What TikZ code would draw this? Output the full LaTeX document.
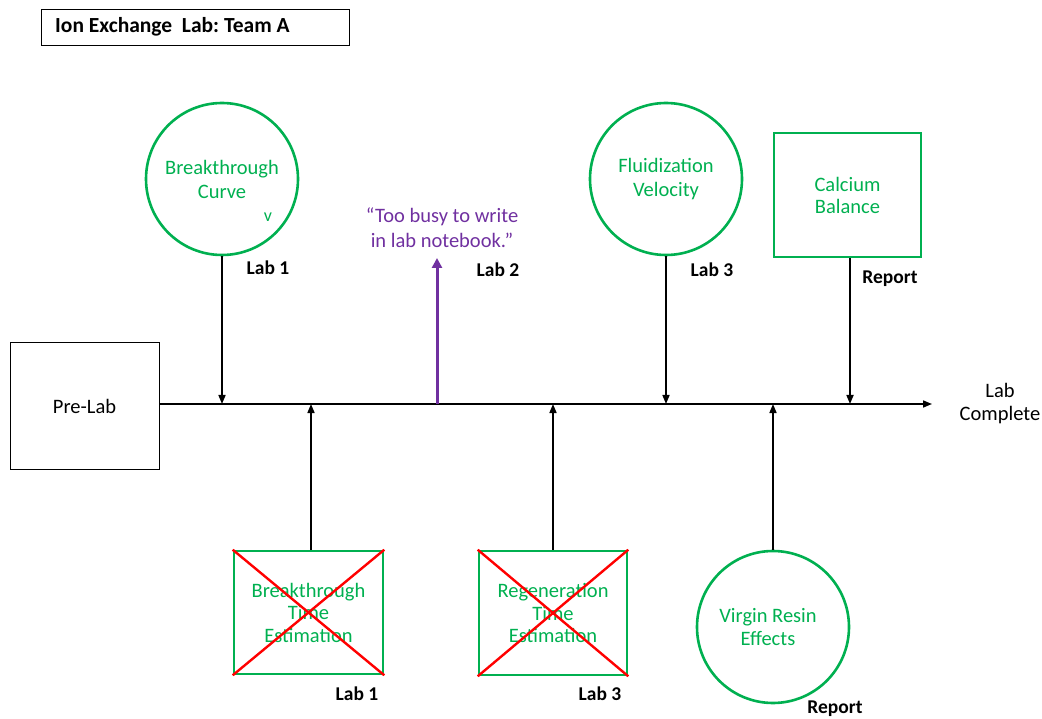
\documentclass[tikz,border=0pt]{standalone}
\usepackage{fontspec}
\setmainfont{Carlito}
\usetikzlibrary{arrows.meta}
\definecolor{labgreen}{RGB}{0,176,80}
\definecolor{labpurple}{RGB}{112,48,160}
\definecolor{labred}{RGB}{255,0,0}
\begin{document}
\begin{tikzpicture}[x=1pt,y=-1pt,
  topic/.style={draw=labgreen,line width=2.6pt,text=labgreen,font=\fontsize{20.5}{24}\selectfont,align=center,inner sep=0pt},
  roundtopic/.style={topic,circle,minimum size=152pt},
  boxtopic/.style={topic,rectangle},
  plainbox/.style={draw=black,line width=1pt,rectangle,inner sep=0pt},
  lablabel/.style={font=\fontsize{19.5}{22}\selectfont\bfseries,inner sep=0pt},
  feed/.style={line width=1.6pt,-{Triangle[length=9pt,width=7pt]}},
  cross/.style={draw=labred,line width=2.4pt}]
\useasboundingbox (0,0) rectangle (1042,719);

% title
\node[plainbox,minimum width=308pt,minimum height=36pt] (title) at (195,28) {};
\node[anchor=west,font=\fontsize{21.5}{24}\selectfont\bfseries,inner sep=0pt] (titletext) at (55,27) {Ion Exchange\ \ Lab:\ Team A};

% timeline
\node[plainbox,minimum width=149pt,minimum height=126pt,font=\fontsize{20.5}{24}\selectfont] (pre) at (84.5,406) {Pre-Lab};
\node[font=\fontsize{20.5}{23}\selectfont,align=center,inner sep=0pt] (done) at (1000,404) {Lab\\Complete};
\coordinate (lineend) at (932,404);

% points on the timeline
\coordinate (p1) at (222,404);
\coordinate (p2) at (311,404);
\coordinate (p3) at (437,404);
\coordinate (p4) at (553,404);
\coordinate (p5) at (666,404);
\coordinate (p6) at (773,404);
\coordinate (p7) at (850,404);
\draw[feed] (pre.east |- lineend) -- (lineend);

% upper topics
\node[roundtopic] (curve) at (222,179) {Breakthrough\\Curve};
\node[text=labgreen,font=\fontsize{18}{20}\selectfont,inner sep=0pt] (tick) at (268,217) {v};
\draw[feed] (curve.south) -- (p1);
\node[lablabel] (lab1a) at (268,268) {Lab 1};

\node[roundtopic] (fluid) at (666,179) {Fluidization\\Velocity};
\draw[feed] (fluid.south) -- (p5);
\node[lablabel] (lab3a) at (712,270) {Lab 3};

\node[boxtopic,minimum width=147pt,minimum height=124pt,font=\fontsize{20.5}{22}\selectfont] (calc) at (847.5,195) {Calcium\\Balance};
\draw[feed] (calc.south -| p7) -- (p7);
\node[lablabel] (repa) at (890,279) {Report};

% note
\coordinate (notetip) at (437,258);
\draw[line width=3pt,draw=labpurple,-{Triangle[length=10pt,width=10pt]}] (p3) -- (notetip);
\node[text=labpurple,font=\fontsize{20.5}{25}\selectfont,align=center,inner sep=0pt] (note) at (442,228) {\char"201C Too busy to write\\in lab notebook.\char"201D};
\node[lablabel] (lab2) at (498,270) {Lab 2};

% lower topics
\node[boxtopic,minimum width=149pt,minimum height=123pt,font=\fontsize{20.5}{22.5}\selectfont] (btime) at (308.5,612.5) {Breakthrough\\Time\\Estimation};
\draw[cross] (btime.north west) -- (btime.south east);
\draw[cross] (btime.south west) -- (btime.north east);
\draw[feed] (btime.north -| p2) -- (p2);
\node[lablabel] (lab1b) at (357,694) {Lab 1};

\node[boxtopic,minimum width=148pt,minimum height=124pt,font=\fontsize{20.5}{22.5}\selectfont] (rtime) at (553,613) {Regeneration\\Time\\Estimation};
\draw[cross] (rtime.north west) -- (rtime.south east);
\draw[cross] (rtime.south west) -- (rtime.north east);
\draw[feed] (rtime.north) -- (p4);
\node[lablabel] (lab3b) at (600,694) {Lab 3};

% text sits a little left of the circle's centre
\node[roundtopic,font=\fontsize{20.5}{23}\selectfont] (virgin) at (773,627) {Virgin Resin\hspace*{10pt}\\Effects\hspace*{10pt}};
\draw[feed] (virgin.north) -- (p6);
\node[lablabel] (repb) at (835,709) {Report};
\end{tikzpicture}
\end{document}
